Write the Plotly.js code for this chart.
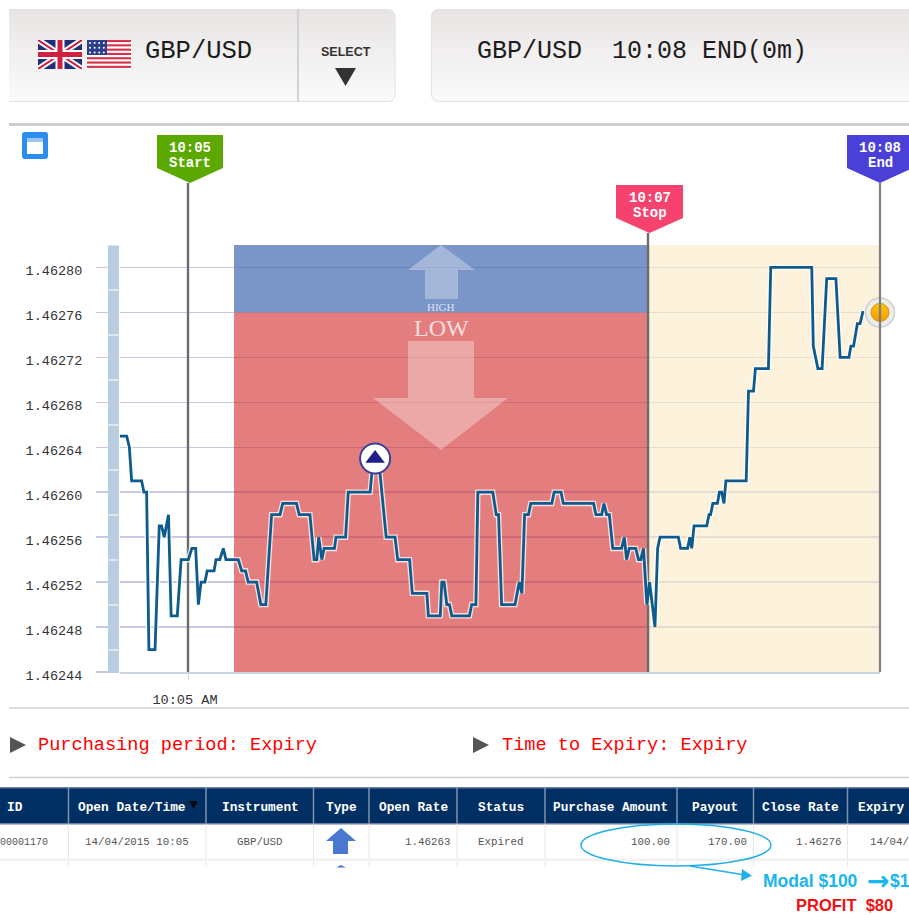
<!DOCTYPE html>
<html>
<head>
<meta charset="utf-8">
<script src="https://cdn.plot.ly/plotly-3.0.1.min.js"></script>
<style>html,body{margin:0;padding:0;background:#fff;overflow:hidden}#chart{width:909px;height:915px}</style>
</head>
<body>
<div id="chart"></div>
<script>
// ---- chart values ----
var secondsFromStart = [-17.9,-16.0,-15.3,-14.7,-12.1,-11.5,-10.8,-10.2,-8.6,-7.5,-6.9,-6.2,-5.1,-4.4,-2.8,-1.8,0.1,1.0,2.0,2.7,3.4,4.4,5.0,6.8,7.3,8.3,9.2,9.9,13.1,14.0,15.0,15.7,17.9,19.0,20.3,21.8,24.0,24.7,28.3,29.0,31.8,32.9,33.6,34.1,34.9,35.5,38.2,38.6,41.1,41.8,47.5,48.3,49.7,51.0,51.7,54.0,54.7,57.8,58.5,62.3,62.7,65.8,66.2,66.8,67.5,68.2,68.8,73.4,74.0,75.1,75.6,79.5,80.4,81.0,81.8,85.3,86.4,87.1,87.8,88.8,89.4,94.9,95.5,97.3,97.9,105.8,106.4,107.9,108.5,109.2,109.9,110.8,113.1,113.8,114.4,115.1,116.8,117.5,118.1,118.8,119.7,120.4,121.8,122.5,123.1,127.9,128.5,130.3,130.9,131.4,132.0,135.3,135.9,136.3,136.9,138.1,138.6,139.2,139.8,140.3,145.6,146.2,147.5,148.0,151.4,152.0,162.7,163.1,164.3,165.4,166.6,169.0,170.1,172.4,172.9,173.6,174.6,175.3,176.0,176.3];
var rates = [1.46265,1.46265,1.46264,1.46261,1.46261,1.46260,1.46260,1.46246,1.46246,1.46257,1.46257,1.46256,1.46258,1.46249,1.46249,1.46254,1.46254,1.46255,1.46255,1.46250,1.46252,1.46252,1.46253,1.46253,1.46254,1.46254,1.46255,1.46254,1.46254,1.46253,1.46253,1.46252,1.46252,1.46250,1.46250,1.46258,1.46258,1.46259,1.46259,1.46258,1.46258,1.46254,1.46254,1.46256,1.46254,1.46255,1.46255,1.46256,1.46256,1.46260,1.46260,1.46263,1.46263,1.46258,1.46256,1.46256,1.46254,1.46254,1.46251,1.46251,1.46249,1.46249,1.46252,1.46252,1.46250,1.46250,1.46249,1.46249,1.46250,1.46250,1.46260,1.46260,1.46258,1.46258,1.46250,1.46250,1.46252,1.46251,1.46258,1.46258,1.46259,1.46259,1.46260,1.46260,1.46259,1.46259,1.46258,1.46258,1.46259,1.46258,1.46258,1.46255,1.46255,1.46256,1.46254,1.46255,1.46255,1.46254,1.46254,1.46255,1.46250,1.46252,1.46248,1.46255,1.46256,1.46256,1.46255,1.46255,1.46256,1.46255,1.46257,1.46257,1.46258,1.46258,1.46259,1.46259,1.46260,1.46260,1.46259,1.46261,1.46261,1.46269,1.46269,1.46271,1.46271,1.46280,1.46280,1.46273,1.46271,1.46271,1.46279,1.46279,1.46272,1.46272,1.46273,1.46273,1.46275,1.46275,1.46276,1.46276];
var rateTicks = [1.46244,1.46248,1.46252,1.46256,1.46260,1.46264,1.46268,1.46272,1.46276,1.46280];
var rateTickLabels = ['1.46244','1.46248','1.46252','1.46256','1.46260','1.46264','1.46268','1.46272','1.46276','1.46280'];
var timeTicks = [0];
var timeTickLabels = ['10:05 AM'];
var startSec = 0, buyFromSec = 12, stopSec = 120, endSec = 180.5, axisStartSec = -17.74;
var strikeRate = 1.46276, openRate = 1.46263, openSec = 48.8, closeRate = 1.46276;
var headers = ['ID','Open Date/Time','Instrument','Type','Open Rate','Status','Purchase Amount','Payout','Close Rate','Expiry'];

// ---- helpers ----
var L = 120, T = 245, PW = 760, PH = 427;
function px(x){ return (x - L) / PW; }
function py(y){ return (T + PH - y) / PH; }
function t(s){ return new Date(Date.UTC(2015,3,14,10,5,0) + s*1000).toISOString().slice(0,-1); }
var times = secondsFromStart.map(t);
var shapes = [], notes = [], images = [];
function rect(x0,y0,x1,y1,fill){ shapes.push({type:'rect',xref:'paper',yref:'paper',layer:'above',x0:px(x0),x1:px(x1),y0:py(y0),y1:py(y1),fillcolor:fill,line:{width:0}}); }
function seg(x0,y0,x1,y1,color,w,dash){ shapes.push({type:'line',xref:'paper',yref:'paper',layer:'above',x0:px(x0),x1:px(x1),y0:py(y0),y1:py(y1),line:{color:color,width:w,dash:dash||'solid'}}); }
function poly(pts,fill){ shapes.push({type:'path',xref:'paper',yref:'paper',layer:'above',path:'M'+pts.map(function(p){return px(p[0])+' '+py(p[1]);}).join(' L')+' Z',fillcolor:fill,line:{width:0}}); }
function note(x,y,text,o){ o=o||{}; notes.push({xref:'paper',yref:'paper',x:px(x),y:py(y),text:text,showarrow:false,xanchor:o.a||'center',yanchor:'middle',borderpad:0,
  font:{family:o.f||'"Liberation Mono",monospace',size:o.s||12,color:o.c||'#333'}}); }
function svgImg(x,y,w,h,body){ var s='<svg xmlns="http://www.w3.org/2000/svg" width="'+w+'" height="'+h+'" viewBox="0 0 '+w+' '+h+'">'+body+'</svg>';
  images.push({source:'data:image/svg+xml;charset=utf-8,'+encodeURIComponent(s),xref:'paper',yref:'paper',x:px(x),y:py(y),sizex:w/PW,sizey:h/PH,xanchor:'left',yanchor:'top',sizing:'stretch',layer:'below'}); }

// ---- header panels ----
var grad='<defs><linearGradient id="g" x1="0" y1="0" x2="0" y2="1"><stop offset="0" stop-color="#e8e4e4"/><stop offset="1" stop-color="#fbfbfb"/></linearGradient></defs>';
svgImg(9,9,387,93,grad+'<rect x="-12" y="0.5" width="398" height="92" rx="7" fill="url(#g)" stroke="#e2e0e0"/><rect x="288" y="0" width="2" height="93" fill="#d2d2d2"/>');
svgImg(431,9,478,93,grad+'<rect x="0.5" y="0.5" width="490" height="92" rx="7" fill="url(#g)" stroke="#e2e0e0"/>');
svgImg(38,40,44,29,'<rect width="44" height="29" fill="#1f2f78"/><path d="M0 0L44 29M44 0L0 29" stroke="#fff" stroke-width="6"/><path d="M0 0L44 29M44 0L0 29" stroke="#d02040" stroke-width="2"/><path d="M22 0V29M0 14.5H44" stroke="#fff" stroke-width="9"/><path d="M22 0V29M0 14.5H44" stroke="#d02040" stroke-width="5"/>');
var stripes=''; for(var i=0;i<7;i++){ stripes+='<rect y="'+(i*4.3)+'" width="44" height="2.1" fill="#d8304a"/>'; }
var stars=''; for(var r=0;r<3;r++){ for(var c=0;c<4;c++){ stars+='<circle cx="'+(3+c*4.6)+'" cy="'+(3+r*4.7)+'" r="1" fill="#fff"/>'; } }
svgImg(87,40,44,29,'<rect width="44" height="29" fill="#fff"/>'+stripes+'<rect width="20" height="15" fill="#2c3f88"/>'+stars);
note(144,52,'GBP/USD',{a:'left',s:25.5,c:'#1c1c1c'});
note(476,52,'GBP/USD\u00a0\u00a010:08\u00a0END(0m)',{a:'left',s:25,c:'#1c1c1c'});
note(346,52,'<b>SELECT</b>',{s:12.5,c:'#333',f:'"Liberation Sans",sans-serif'});
poly([[335,68],[356,68],[345.5,86]],'#333');

// ---- chart chrome ----
rect(9,123,909,126,'#cdcdcd');
svgImg(22,132,26,27,'<rect width="26" height="27" rx="3" fill="#2b8df0"/><rect x="5" y="6" width="16" height="16" fill="#fff"/><rect x="5" y="6" width="16" height="4" fill="#9cc6ef"/>');
seg(113.5,672,113.5,245,'#b9cde0',11,'21.5px,1px');
// arrows on the price zones
poly([[441,245],[475,270],[458,270],[458,299],[425,299],[425,270],[408,270]],'rgba(255,255,255,0.32)');
poly([[408,341],[474,341],[474,398],[508,398],[441,450],[373,398],[408,398]],'rgba(255,255,255,0.32)');
note(441,307,'HIGH',{s:11,c:'rgba(255,255,255,0.75)',f:'"Liberation Serif",serif'});
note(441,328,'LOW',{s:24,c:'rgba(255,255,255,0.75)',f:'"Liberation Serif",serif'});
// flag stems above the plot area
seg(188,183,188,245,'#6c6c6c',2.4);
seg(648,233,648,245,'#6c6c6c',2.4);
seg(880,183,880,672,'#808080',2.2);
// flags
function flag(x0,x1,y0,y1,yt,fill,a,b){ poly([[x0,y0],[x1,y0],[x1,y1],[(x0+x1)/2,yt],[x0,y1]],fill);
  note((x0+x1)/2,y0+13,'<b>'+a+'</b>',{s:14,c:'#fff'}); note((x0+x1)/2,y0+28,'<b>'+b+'</b>',{s:14,c:'#fff'}); }
flag(157,223,135,168,183,'#5aa800','10:05','Start');
flag(616,683,185,218,233,'#f5426e','10:07','Stop');
flag(847,913,135,168,183,'#4a3fd6','10:08','End');

// ---- status lines ----
seg(9,708,909,708,'#cfcfcf',1.5);
poly([[10,737],[26,745],[10,753]],'#555');
note(37,745,'Purchasing period: Expiry',{a:'left',s:18.6,c:'#ff0000'});
poly([[473,737],[489,745],[473,753]],'#555');
note(501,745,'Time to Expiry: Expiry',{a:'left',s:18.6,c:'#ff0000'});
seg(9,777.5,909,777.5,'#cfcfcf',1.5);

// ---- table ----
var dividers=[68.5,206,313.5,369,457,545,677,753.5,847.5];
rect(0,787,909,824,'#003063');
rect(0,787,909,788.5,'#6a7f98');
rect(0,823,909,824.5,'#6a7f98');
dividers.forEach(function(d){ seg(d,787,d,824,'#7d93ad',1.5); seg(d,824,d,867,'#e8e8e8',1); });
rect(0,858.5,909,861,'#f1f1f1');
var headerX=[15,132,260,341,413,501,610,715,800,881];
headers.forEach(function(h,i){ note(headerX[i],807,'<b>'+h+'</b>',{s:12.8,c:'#fff'}); });
poly([[189,801],[198,801],[193.5,809]],'#0a0a0a');
var rowC='#555';
note(49,842,'00001170',{a:'right',s:10,c:rowC});
note(137,842,'14/04/2015 10:05',{s:10.8,c:rowC});
note(259,842,'GBP/USD',{s:10.8,c:rowC});
note(451,842,'1.46263',{a:'right',s:10.8,c:rowC});
note(501,842,'Expired',{s:10.8,c:rowC});
note(671,842,'100.00',{a:'right',s:10.8,c:rowC});
note(748,842,'170.00',{a:'right',s:10.8,c:rowC});
note(842,842,'1.46276',{a:'right',s:10.8,c:rowC});
note(869,842,'14/04/',{a:'left',s:10.8,c:rowC});
poly([[341,828],[356,841],[348,841],[348,854],[333,854],[333,841],[326,841]],'#4a78d0');
poly([[341,865],[346,867.5],[336,867.5]],'#4a78d0');
// callout
shapes.push({type:'circle',xref:'paper',yref:'paper',layer:'above',x0:px(581),x1:px(771),y0:py(824),y1:py(866),line:{color:'#22aee8',width:1.5},fillcolor:'rgba(0,0,0,0)'});
seg(690,866,745,875,'#22aee8',1.5);
poly([[742,869],[752,875.7],[741,881]],'#22aee8');
var calloutFont='"Liberation Sans Narrow","Liberation Sans",sans-serif';
note(762,881,'<b>Modal $100</b>',{a:'left',s:17.5,c:'#19b5f1',f:calloutFont});
note(878,880,'<b>→</b>',{s:27,c:'#19b5f1',f:'"DejaVu Sans",sans-serif'});
note(889,881,'<b>$1</b>',{a:'left',s:17.5,c:'#19b5f1',f:calloutFont});
note(795,905,'<b>PROFIT\u00a0\u00a0$80</b>',{a:'left',s:16.5,c:'#f01010',f:calloutFont});

// ---- price zones ----
function zone(s0,s1,r0,r1,fill){ shapes.push({type:'rect',xref:'x',yref:'y',layer:'between',x0:t(s0),x1:t(s1),y0:r0,y1:r1,fillcolor:fill,line:{width:0}}); }
zone(buyFromSec,stopSec,strikeRate,1.46282,'rgba(66,104,177,0.70)');
zone(buyFromSec,stopSec,1.46244,strikeRate,'rgba(210,40,40,0.60)');
zone(stopSec,endSec,1.46244,1.46282,'rgba(252,233,197,0.60)');

function vline(s){ return {type:'scatter',mode:'lines',x:[t(s),t(s)],y:[1.46244,1.46282],line:{color:'#6c6c6c',width:2.4},hoverinfo:'skip',showlegend:false}; }
var traces=[
  vline(startSec), vline(stopSec),
  {type:'scatter',mode:'lines',x:times,y:rates,line:{color:'rgba(255,255,255,0.75)',width:5.5},hoverinfo:'skip',showlegend:false},
  {type:'scatter',mode:'lines',x:times,y:rates,line:{color:'#0d5a8c',width:2.8},hoverinfo:'skip',showlegend:false},
  {type:'scatter',mode:'markers',x:[t(openSec)],y:[openRate],cliponaxis:false,marker:{size:30,color:'#fff',line:{color:'#3d3d9a',width:2}},hoverinfo:'skip',showlegend:false},
  {type:'scatter',mode:'markers',x:[t(openSec)],y:[openRate],cliponaxis:false,marker:{size:17,symbol:'triangle-up',color:'#1f1f8c'},hoverinfo:'skip',showlegend:false},
  {type:'scatter',mode:'markers',x:[t(endSec)],y:[closeRate],cliponaxis:false,marker:{size:29,color:'#ececec',line:{color:'#cfcfcf',width:1.5}},hoverinfo:'skip',showlegend:false},
  {type:'scatter',mode:'markers',x:[t(endSec)],y:[closeRate],cliponaxis:false,marker:{size:18,color:'#ffc400',gradient:{type:'vertical',color:'#f59a00'},line:{color:'#c79a10',width:1}},hoverinfo:'skip',showlegend:false}
];

var layout={
  width:909,height:915,margin:{l:L,r:909-L-PW,t:T,b:915-T-PH,pad:0},
  paper_bgcolor:'#fff',plot_bgcolor:'#fff',showlegend:false,hovermode:false,
  xaxis:{type:'date',range:[t(axisStartSec),t(endSec)],tickmode:'array',tickvals:timeTicks.map(t),ticktext:timeTickLabels,showgrid:false,zeroline:false,
    showline:true,linecolor:'#c9d4e2',linewidth:1.5,ticks:'outside',ticklen:6,tickcolor:'#ccd6e4',ticklabelstandoff:8,ticklabelshift:-3,
    tickfont:{family:'"Liberation Mono",monospace',size:13.6,color:'#333'},fixedrange:true},
  yaxis:{range:[1.46244,1.46282],tickmode:'array',tickvals:rateTicks,ticktext:rateTickLabels,showgrid:true,gridcolor:'#c8c8e1',gridwidth:1.5,zeroline:false,showline:false,
    ticks:'outside',ticklen:23,tickwidth:1.5,tickcolor:'#c8c8e1',ticklabelstandoff:11,ticklabelshift:3,tickfont:{family:'"Liberation Mono",monospace',size:13.5,color:'#333'},fixedrange:true},
  shapes:shapes,annotations:notes,images:images
};
Plotly.newPlot('chart',traces,layout,{displayModeBar:false,staticPlot:true});
</script>
</body>
</html>
